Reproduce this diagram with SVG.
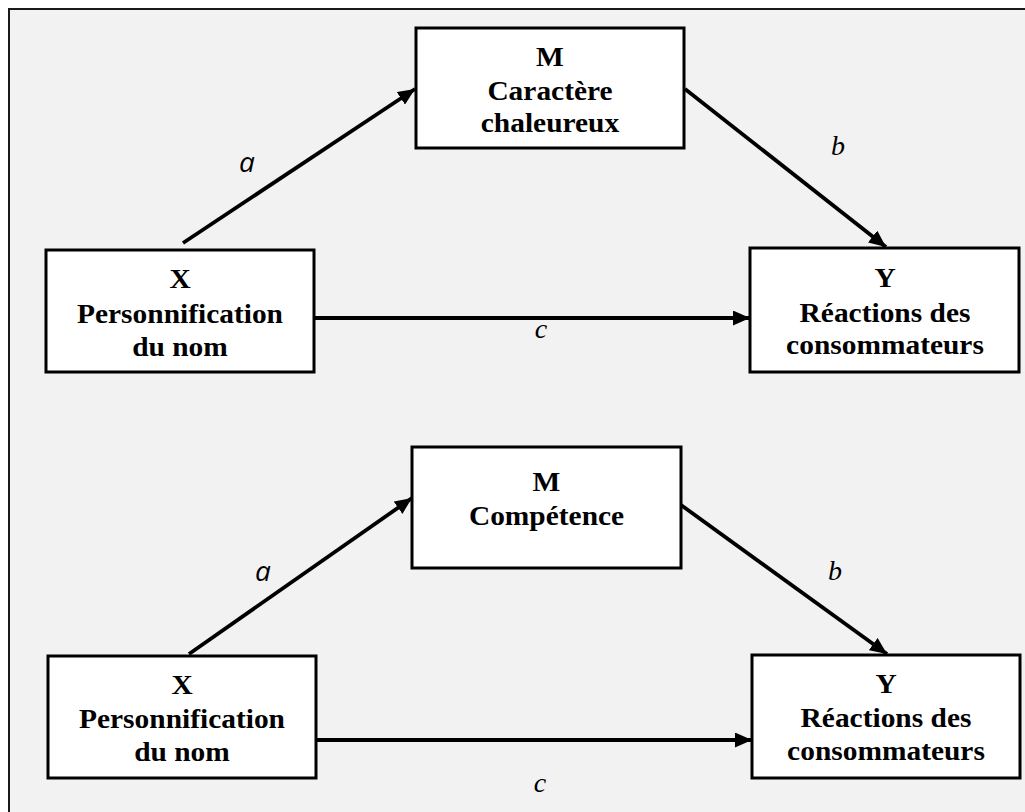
<svg xmlns="http://www.w3.org/2000/svg" width="1025" height="812" viewBox="0 0 1025 812">
<defs>
<style>
.box{fill:#ffffff;stroke:#000;stroke-width:3}
.lbl{font-family:'Times New Roman','Liberation Serif',Tinos,serif;font-weight:bold;font-size:27px;fill:#000;text-anchor:middle}
.conn{stroke:#000;stroke-width:3.8;fill:none;marker-end:url(#ah)}
.ia{font-family:'Open Sans',sans-serif;font-style:italic;font-size:28px;fill:#000;text-anchor:middle}
.ib{font-family:'Times New Roman','Liberation Serif',Tinos,serif;font-style:italic;font-size:28px;fill:#000;text-anchor:middle}
</style>
<marker id="ah" markerUnits="userSpaceOnUse" markerWidth="18" markerHeight="15" refX="17" refY="7.5" orient="auto">
<path d="M0,0 L17,7.5 L0,15 z" fill="#000"/>
</marker>
</defs>
<rect x="0" y="0" width="1025" height="812" fill="#ffffff"/>
<rect x="9" y="9" width="1040" height="840" fill="#f2f2f2" stroke="#1a1a1a" stroke-width="2"/>

<g id="connectors">
<line class="conn" x1="183" y1="243" x2="415" y2="89"/>
<line class="conn" x1="685" y1="89" x2="886" y2="247"/>
<line class="conn" x1="314" y1="318" x2="750" y2="318"/>
<line class="conn" x1="189" y1="654" x2="412" y2="498"/>
<line class="conn" x1="681" y1="505" x2="887" y2="654"/>
<line class="conn" x1="316" y1="740" x2="752" y2="740"/>
<text class="ia" x="247" y="172">a</text>
<text class="ib" x="838" y="155">b</text>
<text class="ib" x="541" y="338">c</text>
<text class="ia" x="263" y="581">a</text>
<text class="ib" x="835" y="580">b</text>
<text class="ib" x="540" y="792">c</text>
</g>

<g id="m1">
<rect class="box" x="416" y="28" width="268" height="120"/>
<g transform="translate(550,0) scale(1.09,1)">
<text class="lbl" x="0" y="66">M</text>
<text class="lbl" x="0" y="100">Caractère</text>
<text class="lbl" x="0" y="132">chaleureux</text>
</g>
</g>

<g id="x1">
<rect class="box" x="46" y="250" width="268" height="122"/>
<g transform="translate(180,0) scale(1.09,1)">
<text class="lbl" x="0" y="288">X</text>
<text class="lbl" x="0" y="323">Personnification</text>
<text class="lbl" x="0" y="356">du nom</text>
</g>
</g>

<g id="y1">
<rect class="box" x="750" y="248" width="269" height="124"/>
<g transform="translate(885,0) scale(1.09,1)">
<text class="lbl" x="0" y="287">Y</text>
<text class="lbl" x="0" y="322">Réactions des</text>
<text class="lbl" x="0" y="354">consommateurs</text>
</g>
</g>

<g id="m2">
<rect class="box" x="412" y="447" width="269" height="121"/>
<g transform="translate(546.5,0) scale(1.09,1)">
<text class="lbl" x="0" y="491">M</text>
<text class="lbl" x="0" y="525">Compétence</text>
</g>
</g>

<g id="x2">
<rect class="box" x="48" y="656" width="268" height="122"/>
<g transform="translate(182,0) scale(1.09,1)">
<text class="lbl" x="0" y="694">X</text>
<text class="lbl" x="0" y="728">Personnification</text>
<text class="lbl" x="0" y="761">du nom</text>
</g>
</g>

<g id="y2">
<rect class="box" x="752" y="655" width="268" height="123"/>
<g transform="translate(886,0) scale(1.09,1)">
<text class="lbl" x="0" y="693">Y</text>
<text class="lbl" x="0" y="727">Réactions des</text>
<text class="lbl" x="0" y="760">consommateurs</text>
</g>
</g>
</svg>
